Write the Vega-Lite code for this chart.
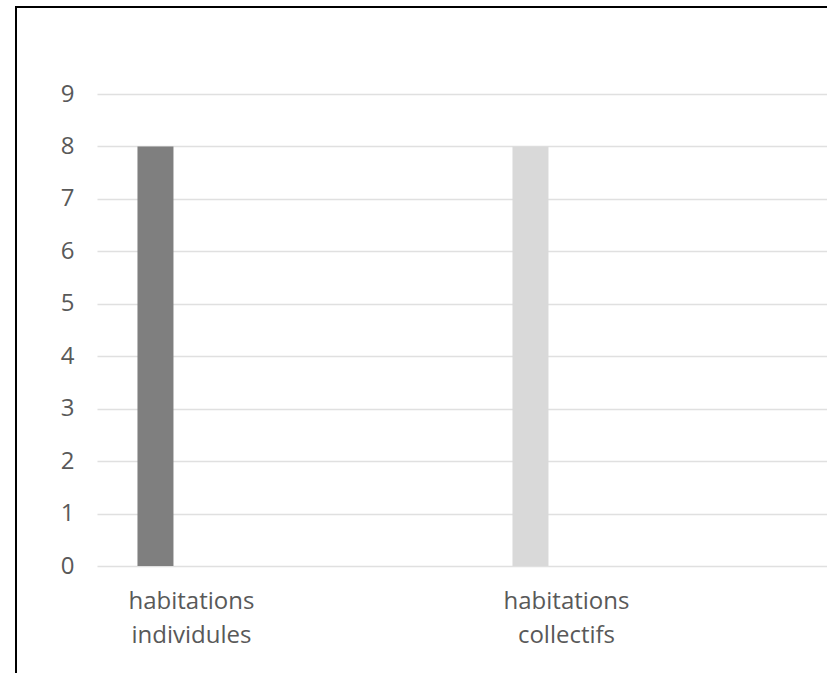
{
  "$schema": "https://vega.github.io/schema/vega-lite/v6.json",
  "width": 820,
  "height": 680,
  "padding": {"left": 16, "top": 7, "right": 0, "bottom": 0},
  "background": "white",
  "config": {
    "view": {"stroke": "#000000", "strokeWidth": 2, "fill": "white"}
  },
  "data": {
    "values": [
      {"categorie": "habitations individules", "valeur": 8},
      {"categorie": "habitations collectifs", "valeur": 8}
    ]
  },
  "mark": {"type": "bar"},
  "encoding": {
    "x": {
      "field": "categorie",
      "type": "nominal",
      "sort": null,
      "scale": {"paddingInner": 0.904, "paddingOuter": 0.5453, "align": 0.297},
      "axis": {
        "title": null,
        "orient": "bottom",
        "labelAngle": 0,
        "domain": false,
        "ticks": false,
        "grid": false,
        "offset": -121,
        "labelOffset": 36,
        "labelPadding": 23,
        "labelExpr": "split(datum.label, ' ')",
        "labelFont": "Open Sans",
        "labelFontSize": 24,
        "labelColor": "#595959",
        "labelLineHeight": 34
      }
    },
    "y": {
      "field": "valeur",
      "type": "quantitative",
      "scale": {"domain": [-2.307, 10.659], "nice": false, "zero": false},
      "axis": {
        "title": null,
        "values": [0, 1, 2, 3, 4, 5, 6, 7, 8, 9],
        "domain": false,
        "ticks": false,
        "grid": true,
        "gridColor": "#e0e0e0",
        "gridWidth": 1.5,
        "gridDash": [0, 81, 3000],
        "offset": -64,
        "labelPadding": 6,
        "labelFont": "Open Sans",
        "labelFontSize": 24,
        "labelColor": "#595959"
      }
    },
    "y2": {"datum": 0},
    "color": {
      "field": "categorie",
      "type": "nominal",
      "scale": {
        "domain": ["habitations individules", "habitations collectifs"],
        "range": ["#7f7f7f", "#d9d9d9"]
      },
      "legend": null
    }
  }
}
